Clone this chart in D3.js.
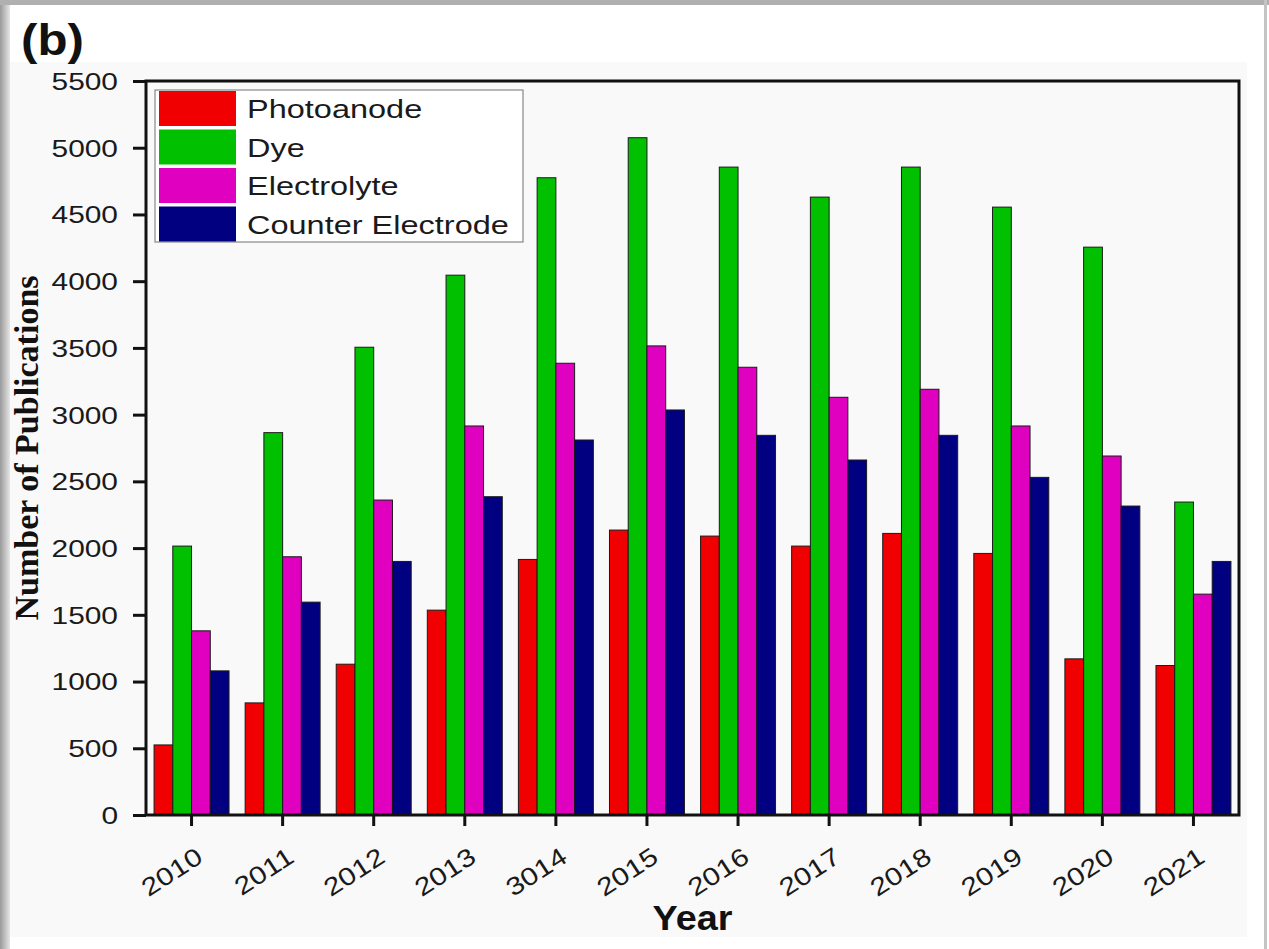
<!DOCTYPE html>
<html lang="en">
<head>
<meta charset="UTF-8">
<title>Publications by DSSC component</title>
<style>
    body { margin: 0; padding: 0; background: #fff; }
    svg { display: block; font-family: "Liberation Sans", Arial, sans-serif; }
</style>
</head>
<body>
<svg id="chart" width="1269" height="949"></svg>
<script src="https://d3js.org/d3.v7.min.js"></script>
<script>
    // values
    const years = ['2010', '2011', '2012', '2013', '3014', '2015', '2016', '2017', '2018', '2019', '2020', '2021'];
    const photoanode = [525, 840, 1130, 1535, 1915, 2135, 2090, 2015, 2110, 1960, 1170, 1120];
    const dye = [2015, 2865, 3505, 4045, 4775, 5075, 4855, 4630, 4855, 4555, 4255, 2345];
    const electrolyte = [1380, 1935, 2360, 2915, 3385, 3515, 3355, 3130, 3190, 2915, 2690, 1655];
    const counterElectrode = [1080, 1595, 1900, 2385, 2810, 3035, 2845, 2660, 2845, 2530, 2315, 1900];
    const seriesNames = ['Photoanode', 'Dye', 'Electrolyte', 'Counter Electrode'];
    const seriesColors = ['#f00000', '#00c000', '#e000c0', '#000080'];
    const yTicks = [0, 500, 1000, 1500, 2000, 2500, 3000, 3500, 4000, 4500, 5000, 5500];

    const seriesValues = [photoanode, dye, electrolyte, counterElectrode];
    const svg = d3.select('#chart');

    const plot = { left: 146, right: 1239, top: 81, bottom: 815 };

    // card look: grey shadow on left / top / right edge
    const defs = svg.append('defs');
    const grad = defs.append('linearGradient').attr('id', 'shadeL');
    grad.append('stop').attr('offset', '0%').attr('stop-color', '#9a9a9a');
    grad.append('stop').attr('offset', '100%').attr('stop-color', '#e6e6e6');
    svg.append('rect').attr('x', 0).attr('y', 0).attr('width', 10).attr('height', 949).attr('fill', 'url(#shadeL)');
    svg.append('rect').attr('x', 0).attr('y', 0).attr('width', 1269).attr('height', 5).attr('fill', '#b0b0b0');
    svg.append('rect').attr('x', 1264).attr('y', 0).attr('width', 3).attr('height', 949).attr('fill', '#c4c4c4');
    svg.append('rect').attr('x', 10).attr('y', 62).attr('width', 1237).attr('height', 875).attr('fill', '#f9f9f9');

    const x0 = d3.scaleBand().domain(years).range([plot.left, plot.right]).padding(0);
    const x1 = d3.scaleBand().domain(seriesNames).range([0, x0.bandwidth()]).paddingInner(0).paddingOuter(0.43);
    const y = d3.scaleLinear().domain([0, 5500]).range([plot.bottom, plot.top]);

    // bars
    const groups = svg.append('g').selectAll('g')
        .data(years)
        .join('g')
        .attr('transform', d => `translate(${x0(d)},0)`);

    groups.selectAll('rect')
        .data((d, i) => seriesNames.map((s, k) => ({ s, k, v: seriesValues[k][i] })))
        .join('rect')
        .attr('x', d => x1(d.s))
        .attr('y', d => y(d.v))
        .attr('width', x1.bandwidth())
        .attr('height', d => y(0) - y(d.v))
        .attr('fill', d => seriesColors[d.k])
        .attr('stroke', '#1a1a1a')
        .attr('stroke-width', 1);

    // y axis
    const yAxis = svg.append('g')
        .attr('transform', `translate(${plot.left},0)`)
        .call(d3.axisLeft(y).tickValues(yTicks).tickFormat(d3.format('d'))
            .tickSize(13).tickSizeOuter(0));
    yAxis.select('.domain').remove();
    yAxis.selectAll('line').attr('stroke', '#111').attr('stroke-width', 3);
    yAxis.selectAll('text')
        .attr('x', 0)
        .attr('transform', 'translate(-28,1) scale(1.3,1)')
        .attr('font-size', 23)
        .attr('fill', '#1a1a1a')
        .attr('font-family', '"Liberation Sans", Arial, sans-serif');

    // x axis
    const xAxis = svg.append('g')
        .attr('transform', `translate(0,${plot.bottom})`)
        .call(d3.axisBottom(x0).tickSize(11).tickSizeOuter(0));
    xAxis.select('.domain').remove();
    xAxis.selectAll('line').attr('stroke', '#111').attr('stroke-width', 3);
    xAxis.selectAll('text')
        .attr('x', 0)
        .attr('y', 0)
        .attr('dy', 0)
        .style('text-anchor', 'end')
        .attr('transform', 'translate(13,46) rotate(-33) scale(1.2,1)')
        .attr('font-size', 25)
        .attr('fill', '#1a1a1a')
        .attr('font-family', '"Liberation Sans", Arial, sans-serif');

    // frame
    svg.append('rect')
        .attr('x', plot.left).attr('y', plot.top)
        .attr('width', plot.right - plot.left).attr('height', plot.bottom - plot.top)
        .attr('fill', 'none')
        .attr('stroke', '#111')
        .attr('stroke-width', 3);

    // legend
    const legend = svg.append('g');
    legend.append('rect')
        .attr('x', 155).attr('y', 90).attr('width', 368).attr('height', 152)
        .attr('fill', '#fff').attr('stroke', '#888').attr('stroke-width', 1.2);
    const items = legend.selectAll('g.item')
        .data(seriesNames)
        .join('g')
        .attr('class', 'item')
        .attr('transform', (d, i) => `translate(0,${i * 38.5})`);
    items.append('rect')
        .attr('x', 159).attr('y', 91)
        .attr('width', 77).attr('height', 35)
        .attr('fill', (d, i) => seriesColors[i]);
    items.append('text')
        .attr('transform', 'translate(247,118) scale(1.3,1)')
        .attr('font-size', 25)
        .attr('fill', '#1a1a1a')
        .text(d => d);

    // titles
    svg.append('text')
        .attr('transform', 'translate(21,55) scale(1.12,1)')
        .attr('font-size', 44)
        .attr('font-weight', 'bold')
        .attr('fill', '#111')
        .text('(b)');

    svg.append('text')
        .attr('transform', `translate(${(plot.left + plot.right) / 2},930) scale(1.08,1)`)
        .attr('text-anchor', 'middle')
        .attr('font-size', 35)
        .attr('font-weight', 'bold')
        .attr('fill', '#111')
        .text('Year');

    svg.append('text')
        .attr('transform', `translate(38,${(plot.top + plot.bottom) / 2}) rotate(-90)`)
        .attr('text-anchor', 'middle')
        .attr('font-family', '"Liberation Serif", "Times New Roman", serif')
        .attr('font-size', 34)
        .attr('font-weight', 'bold')
        .attr('fill', '#111')
        .text('Number of Publications');
</script>
</body>
</html>
